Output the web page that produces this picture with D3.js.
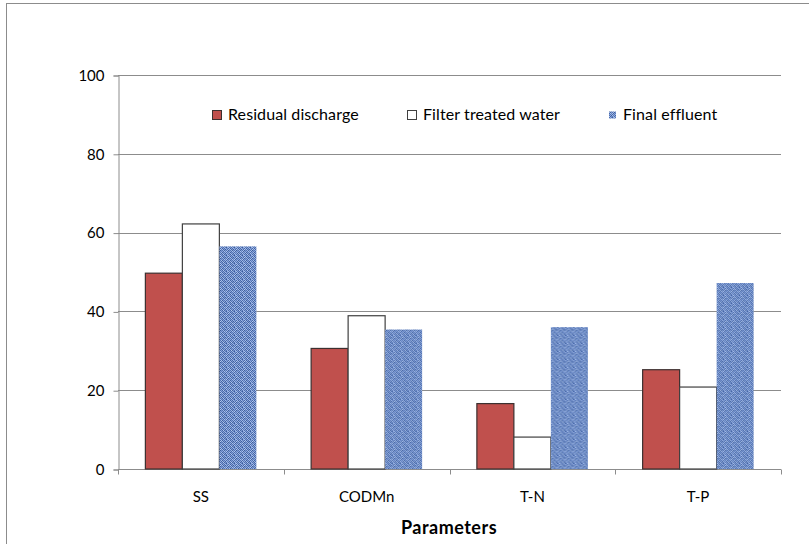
<!DOCTYPE html>
<html>
<head>
<meta charset="utf-8">
<script src="https://cdn.jsdelivr.net/npm/d3@7"></script>
<style>
  html, body { margin: 0; padding: 0; background: #fff; }
  svg { display: block; font-family: Lato, "Liberation Sans", Arial, sans-serif; }
</style>
</head>
<body>
<svg id="chart" width="809" height="544"></svg>
<script>
// Categories and measured values per treatment stage
const categories = ["SS", "CODMn", "T-N", "T-P"];
const seriesNames = ["Residual discharge", "Filter treated water", "Final effluent"];
const residualDischarge = [49.7, 30.6, 16.6, 25.2];
const filterTreatedWater = [62.2, 38.9, 8.1, 20.8];
const finalEffluent = [56.5, 35.4, 36.0, 47.2];
const yTicks = [0, 20, 40, 60, 80, 100];

const seriesValues = [residualDischarge, filterTreatedWater, finalEffluent];

const svg = d3.select("#chart");

// Outer chart frame
svg.append("rect")
  .attr("x", 6.5).attr("y", 3.5)
  .attr("width", 820).attr("height", 560)
  .attr("fill", "#fff").attr("stroke", "#8c8c8c").attr("stroke-width", 1);

// Woven blue texture for the third series
const defs = svg.append("defs");
const pat = defs.append("pattern")
  .attr("id", "weave").attr("patternUnits", "userSpaceOnUse")
  .attr("width", 8).attr("height", 8);
pat.append("rect").attr("width", 8).attr("height", 8).attr("fill", "#6382c2");
const weaveCells = [
  [0,0,"#3f5f9f"],[1,0,"#8aa6dc"],[2,0,"#4a6aaa"],[3,0,"#9fb8e6"],[4,0,"#6a88c6"],[5,0,"#7a98d2"],[6,0,"#4868a8"],[7,0,"#a9c0ea"],
  [0,1,"#a6bee8"],[1,1,"#4565a5"],[2,1,"#7c9ad4"],[3,1,"#3f5f9c"],[4,1,"#91acdf"],[5,1,"#4a6aa9"],[6,1,"#b3c8ee"],[7,1,"#5a7ab8"],
  [0,2,"#5373b2"],[1,2,"#9bb4e4"],[2,2,"#46669f"],[3,2,"#86a2da"],[4,2,"#5070b0"],[5,2,"#a4bce8"],[6,2,"#3d5d98"],[7,2,"#7896d0"],
  [0,3,"#8da8de"],[1,3,"#4a6aa8"],[2,3,"#a9c1eb"],[3,3,"#5d7dbd"],[4,3,"#b0c6ee"],[5,3,"#43639f"],[6,3,"#86a2d9"],[7,3,"#5b7bbb"],
  [0,4,"#3f5f9b"],[1,4,"#7f9cd5"],[2,4,"#5676b6"],[3,4,"#9ab3e3"],[4,4,"#4b6baa"],[5,4,"#8ea9df"],[6,4,"#5676b5"],[7,4,"#a2bbe7"],
  [0,5,"#9fb8e5"],[1,5,"#5171b1"],[2,5,"#8ba6dd"],[3,5,"#40609d"],[4,5,"#a6bee9"],[5,5,"#5979b9"],[6,5,"#93aee1"],[7,5,"#45659f"],
  [0,6,"#4464a4"],[1,6,"#b1c7ee"],[2,6,"#44649e"],[3,6,"#7895cf"],[4,6,"#5474b3"],[5,6,"#9cb5e5"],[6,6,"#4e6ead"],[7,6,"#86a1d8"],
  [0,7,"#7e9bd4"],[1,7,"#4d6dac"],[2,7,"#9ab4e4"],[3,7,"#5c7cbc"],[4,7,"#3e5e9a"],[5,7,"#88a4db"],[6,7,"#a8c0ea"],[7,7,"#5575b4"]
];
pat.selectAll("rect.c").data(weaveCells).join("rect")
  .attr("class", "c")
  .attr("x", d => d[0]).attr("y", d => d[1])
  .attr("width", 1).attr("height", 1)
  .attr("fill", d => d[2]);

const margin = { left: 118, right: 781, top: 75, bottom: 469 };

const x = d3.scaleBand().domain(categories)
  .range([margin.left, margin.right]).paddingInner(0).paddingOuter(0);
const xInner = d3.scaleBand().domain(d3.range(seriesNames.length))
  .range([0, x.bandwidth()]).paddingInner(0).paddingOuter(0.74);
const y = d3.scaleLinear().domain([0, 100]).range([margin.bottom, margin.top]);

// Horizontal gridlines
svg.append("g").selectAll("line").data(yTicks.filter(t => t > 0)).join("line")
  .attr("x1", margin.left).attr("x2", margin.right)
  .attr("y1", d => Math.round(y(d)) + 0.5).attr("y2", d => Math.round(y(d)) + 0.5)
  .attr("stroke", "#8c8c8c").attr("stroke-width", 1);

// Y axis
const yAxis = svg.append("g")
  .attr("transform", `translate(${margin.left + 0.5},0.5)`)
  .call(d3.axisLeft(y).tickValues(yTicks).tickSize(5).tickPadding(9));
yAxis.select(".domain").attr("stroke", "#8c8c8c");
yAxis.selectAll(".tick line").attr("stroke", "#8c8c8c");
yAxis.selectAll(".tick text").attr("font-size", 15).attr("fill", "#000")
  .attr("font-family", "Lato, 'Liberation Sans', Arial, sans-serif");

// X axis with ticks at category boundaries
const xAxis = svg.append("g")
  .attr("transform", `translate(0,${margin.bottom + 0.5})`);
xAxis.append("line")
  .attr("x1", margin.left).attr("x2", margin.right)
  .attr("stroke", "#8c8c8c");
const boundaries = categories.map(c => x(c)).concat([margin.right]);
xAxis.selectAll("line.tk").data(boundaries).join("line")
  .attr("class", "tk")
  .attr("x1", d => Math.round(d) + 0.5).attr("x2", d => Math.round(d) + 0.5)
  .attr("y1", 0).attr("y2", 5)
  .attr("stroke", "#8c8c8c");
xAxis.selectAll("text").data(categories).join("text")
  .attr("x", d => x(d) + x.bandwidth() / 2)
  .attr("y", 32)
  .attr("text-anchor", "middle")
  .attr("font-size", 15).attr("fill", "#000")
  .text(d => d);

// Bars
const fills = ["#c0504d", "#ffffff", "url(#weave)"];
const strokes = ["#3c3030", "#404040", "none"];
const groups = svg.append("g").selectAll("g").data(categories).join("g")
  .attr("transform", d => `translate(${x(d)},0)`);
groups.selectAll("rect")
  .data((c, ci) => seriesValues.map((vals, si) => ({ si, v: vals[ci] })))
  .join("rect")
  .attr("x", d => xInner(d.si))
  .attr("y", d => y(d.v))
  .attr("width", xInner.bandwidth())
  .attr("height", d => y(0) - y(d.v))
  .attr("fill", d => fills[d.si])
  .attr("stroke", d => strokes[d.si])
  .attr("stroke-width", 1.2);

// Legend
const legendX = [212, 407, 608];
const legend = svg.append("g").selectAll("g").data(seriesNames).join("g")
  .attr("transform", (d, i) => `translate(${legendX[i]},110)`);
legend.append("rect")
  .attr("x", (d, i) => i === 2 ? 1 : 0.5)
  .attr("y", (d, i) => i === 2 ? 1.5 : 0.5)
  .attr("width", (d, i) => i === 2 ? 7 : 9)
  .attr("height", (d, i) => i === 2 ? 7 : 9)
  .attr("fill", (d, i) => fills[i])
  .attr("stroke", (d, i) => strokes[i])
  .attr("stroke-width", 1);
legend.append("text")
  .attr("x", (d, i) => i === 2 ? 15 : 16)
  .attr("y", 10)
  .attr("font-size", 16).attr("letter-spacing", 0.1).attr("fill", "#000")
  .text(d => d);

// Axis title
svg.append("text")
  .attr("x", 449).attr("y", 534)
  .attr("text-anchor", "middle")
  .attr("font-size", 18).attr("letter-spacing", 0.5)
  .attr("font-weight", "bold").attr("fill", "#000")
  .text("Parameters");
</script>
</body>
</html>
